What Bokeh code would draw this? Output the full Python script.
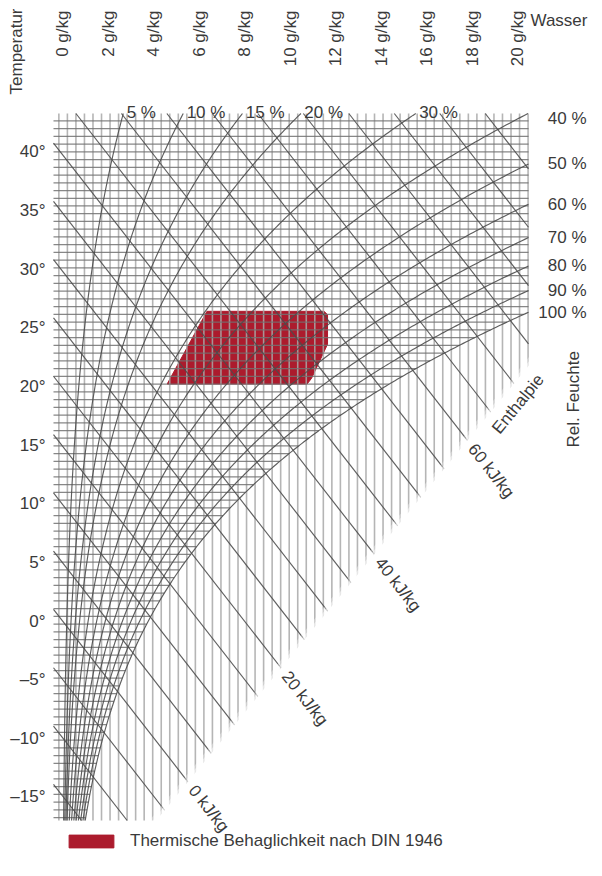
import numpy as np
from bokeh.plotting import figure
from bokeh.models import Label, Legend, LegendItem, Range1d, ColumnDataSource
from bokeh.core.properties import value
from bokeh.embed import file_html
from bokeh.resources import INLINE

# ---------------- data ----------------
temp_ticks = [40, 35, 30, 25, 20, 15, 10, 5, 0, -5, -10, -15]
temp_labels = ["40°", "35°", "30°", "25°", "20°", "15°", "10°", "5°", "0°", "–5°", "–10°", "–15°"]
water_ticks = [0, 2, 4, 6, 8, 10, 12, 14, 16, 18, 20]
water_labels = ["0 g/kg", "2 g/kg", "4 g/kg", "6 g/kg", "8 g/kg", "10 g/kg",
                "12 g/kg", "14 g/kg", "16 g/kg", "18 g/kg", "20 g/kg"]
rh_top_levels = [5, 10, 15, 20, 30]
rh_top_labels = ["5 %", "10 %", "15 %", "20 %", "30 %"]
rh_right_levels = [40, 50, 60, 70, 80, 90, 100]
rh_right_labels = ["40 %", "50 %", "60 %", "70 %", "80 %", "90 %", "100 %"]
enthalpy_levels = [0, 20, 40, 60]
enthalpy_labels = ["0 kJ/kg", "20 kJ/kg", "40 kJ/kg", "60 kJ/kg"]
comfort_x = [4.6, 6.35, 11.5, 11.65, 11.65, 10.95, 10.75]
comfort_t = [20.2, 26.4, 26.4, 26.1, 23.6, 20.7, 20.2]
comfort_label = "Thermische Behaglichkeit nach DIN 1946"

FONT = "Liberation Sans"
TXT = "#3a3a3a"
FS = "17px"
RED = "#AC1B2D"
P_ATM = 101.325


def p_sat(t):
    return 0.61094 * np.exp(17.625 * t / (t + 243.04))


def humidity_ratio(phi, t):
    pv = phi / 100.0 * p_sat(t)
    return 622.0 * pv / (P_ATM - pv)


def chart_y(t, x):
    # Mollier h,x chart: ordinate = h - r0*x, expressed in degrees at x = 0
    return t * (1.006 + 0.00186 * x) / 1.006


def enthalpy_y(h, x):
    return (h - 2.501 * x) / 1.006


W, H = 602, 876
PPX, PPY = 22.75, 11.73
X_ORG, Y_ORG = 62.0, 620.5          # canvas pixel of x = 0 g/kg, t = 0 degC
CX0, CX1 = -X_ORG / PPX, (W - X_ORG) / PPX
CY0, CY1 = (Y_ORG - H) / PPY, Y_ORG / PPY

# chart box (line work area)
XL, XR = (53 - X_ORG) / PPX, (528 - X_ORG) / PPX
YT, YB = (Y_ORG - 113) / PPY, (Y_ORG - 820) / PPY

# fading edge of the line work (lower right)
FB = 2.369
FA = -15.56 - FB * 4.44


def fade_y(x):
    return FA + FB * x


def rh_curve(phi, clip=True):
    t = np.linspace(-40, 60, 4000)
    x = humidity_ratio(phi, t)
    y = chart_y(t, x)
    if not clip:
        return x, y
    t_bot = np.interp(YB, y, t)
    t_end = min(np.interp(YT, y, t), np.interp(XR, x, t))
    tt = np.linspace(t_bot, t_end, 400)
    xx = humidity_ratio(phi, tt)
    yy = chart_y(tt, xx)
    keep = xx >= XL
    return xx[keep], yy[keep]


p = figure(width=W, height=H, x_range=Range1d(CX0, CX1), y_range=Range1d(CY0, CY1),
           output_backend="svg", toolbar_location=None,
           x_axis_location=None, y_axis_location=None,
           min_border_left=0, min_border_right=0, min_border_top=0, min_border_bottom=0,
           outline_line_color=None, background_fill_color="white", border_fill_color="white")
p.grid.visible = False

# comfort zone
red = p.patch(comfort_x, comfort_t, fill_color=RED, line_color=RED, line_width=1)

# vertical lines (water content)
vx = np.arange(-0.16, XR, 0.375)
v_bot = np.maximum(YB, fade_y(vx) - 0.9)
keep = v_bot < YT
vx, v_bot = vx[keep], v_bot[keep]
p.segment(x0=vx, y0=v_bot, x1=vx, y1=np.full_like(vx, YT),
          line_color="#a8a8a8", line_width=1.6, line_alpha=0.85)

# horizontal lines (temperature), ending at the saturation curve
sat_x, sat_y = rh_curve(100, clip=False)
hy = 40 - 0.66 * np.arange(-5, 95)
hy = hy[(hy >= YB) & (hy <= YT)]
h_end = np.minimum(np.interp(hy, sat_y, sat_x), XR)
p.segment(x0=np.full_like(hy, XL), y0=hy, x1=h_end, y1=hy,
          line_color="#727272", line_width=1.25, line_alpha=0.85)

# enthalpy lines, clipped to the chart box and the fading edge
hs = np.arange(-20, 101, 5).astype(float)
x_fade = (hs / 1.006 - FA + 0.9) / (FB + 2.501 / 1.006)
x_a = np.maximum(XL, (hs - 1.006 * YT) / 2.501)
x_b = np.minimum(np.minimum(x_fade, (hs - 1.006 * YB) / 2.501), XR)
ok = x_a < x_b
p.segment(x0=x_a[ok], y0=enthalpy_y(hs[ok], x_a[ok]), x1=x_b[ok], y1=enthalpy_y(hs[ok], x_b[ok]),
          line_color="#4c4c4c", line_width=1.15, line_alpha=0.9)

# relative humidity curves
all_rh = rh_top_levels + rh_right_levels
curves = [rh_curve(phi) for phi in all_rh]
p.multi_line([list(c[0]) for c in curves], [list(c[1]) for c in curves],
             line_color="#4c4c4c", line_width=1.15, line_alpha=0.9)

# soft fade of the lower right edge
for s, a in [(0.0, 0.35), (0.35, 0.5), (0.7, 1.0)]:
    bx = [(YB - 0.05 - FA + s) / FB, XR + 0.05, XR + 0.05]
    by = [YB - 0.05, fade_y(XR + 0.05) - s, YB - 0.05]
    p.patch(bx, by, fill_color="white", fill_alpha=a, line_color=None)

# temperature tick labels
tsrc = ColumnDataSource(dict(x=[(45 - X_ORG) / PPX] * len(temp_ticks), y=temp_ticks, text=temp_labels))
p.text(x="x", y="y", text="text", source=tsrc, text_align="right", text_baseline="middle",
       text_font=value(FONT), text_font_size=value(FS), text_color=TXT)


def lab(x, y, text, **kw):
    opts = dict(text_font=FONT, text_font_size=FS, text_color=TXT)
    opts.update(kw)
    p.add_layout(Label(x=x, y=y, text=text, **opts))


# water content labels (top)
for xv, tx in zip(water_ticks, water_labels):
    lab(xv, (Y_ORG - 10) / PPY, tx, angle=np.pi / 2, text_align="right", text_baseline="middle")
lab((15.5 - X_ORG) / PPX, (Y_ORG - 8) / PPY, "Temperatur", angle=np.pi / 2,
    text_align="right", text_baseline="middle")
lab((530 - X_ORG) / PPX, (Y_ORG - 20) / PPY, "Wasser", text_align="left", text_baseline="middle")

# RH labels on top
for phi, tx in zip(rh_top_levels, rh_top_labels):
    cx, cy = rh_curve(phi, clip=False)
    x_exit = np.interp(YT, cy, cx)
    lab(x_exit + 0.15, YT + 0.08, tx, text_align="left", text_baseline="alphabetic")

# RH labels right
for phi, tx in zip(rh_right_levels, rh_right_labels):
    cx, cy = rh_curve(phi, clip=False)
    y_exit = min(np.interp(XR, cx, cy), YT - 0.45)
    lab((586 - X_ORG) / PPX, y_exit, tx, text_align="right", text_baseline="middle")

# enthalpy labels
ang_h = np.arctan(-2.501 / 1.006 * PPY / PPX)
for hv, tx in zip(enthalpy_levels, enthalpy_labels):
    xi = (hv / 1.006 - FA) / (FB + 2.501 / 1.006) + 0.33
    lab(xi, enthalpy_y(hv, xi), tx, angle=ang_h, text_align="left", text_baseline="middle")

ang_b = np.arctan(FB * PPY / PPX)
lab((517.5 - X_ORG) / PPX, (Y_ORG - 403.5) / PPY, "Enthalpie", angle=ang_b,
    text_align="center", text_baseline="middle")
lab((572.5 - X_ORG) / PPX, (Y_ORG - 447) / PPY, "Rel. Feuchte", angle=np.pi / 2,
    text_align="left", text_baseline="middle")

legend = Legend(items=[LegendItem(label=comfort_label, renderers=[red])],
                location=(63, 25), orientation="horizontal",
                margin=0, padding=0, glyph_width=56, glyph_height=16, label_height=13,
                label_standoff=11, border_line_color=None, background_fill_alpha=0,
                label_text_font=FONT, label_text_font_size=FS, label_text_color=TXT)
p.add_layout(legend)

open("out.html", "w").write(file_html(p, INLINE))
